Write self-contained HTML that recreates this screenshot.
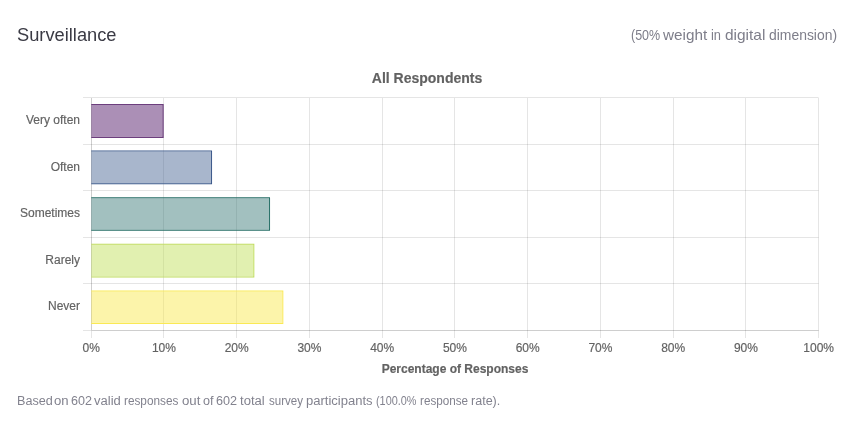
<!DOCTYPE html>
<html>
<head>
<meta charset="utf-8">
<style>
html,body{margin:0;padding:0;background:#fff;}
body{width:857px;height:430px;position:relative;overflow:hidden;font-family:"Liberation Sans",sans-serif;}
#wrap{position:absolute;left:0;top:0;width:857px;height:430px;will-change:transform;}
.t span{position:absolute;white-space:nowrap;transform-origin:0 0;}
#title span{top:24px;font-size:17.5px;color:#3a3a44;line-height:22px;}
#weight span{top:26px;font-size:14.5px;color:#7e7e8a;line-height:18px;}
#foot span{top:393px;font-size:12px;color:#82828e;line-height:16px;}
svg{position:absolute;left:0;top:0;}
svg text{font-family:"Liberation Sans",sans-serif;fill:#626262;font-size:12px;stroke:#666;stroke-width:0.18px;}
</style>
</head>
<body>
<div id="wrap">
<div class="t" id="title"><span style="left:17.09px;transform:scaleX(1.044)">Surveillance</span></div>
<div class="t" id="weight"><span style="left:630.52px;transform:scaleX(0.8622)">(50%</span><span style="left:663.3px;transform:scaleX(1.0542)">weight</span><span style="left:711.34px;transform:scaleX(0.8852)">in</span><span style="left:724.73px;transform:scaleX(1.064)">digital</span><span style="left:769.08px;transform:scaleX(0.9595)">dimension)</span></div>
<svg width="857" height="430" viewBox="0 0 857 430">
  <g>
  <rect x="83" y="97" width="735.6" height="1" fill="rgba(0,0,0,0.1)"/>
  <rect x="83" y="144" width="735.6" height="1" fill="rgba(0,0,0,0.1)"/>
  <rect x="83" y="190" width="735.6" height="1" fill="rgba(0,0,0,0.1)"/>
  <rect x="83" y="237" width="735.6" height="1" fill="rgba(0,0,0,0.1)"/>
  <rect x="83" y="283" width="735.6" height="1" fill="rgba(0,0,0,0.1)"/>
  <rect x="83" y="330" width="735.6" height="1" fill="rgba(0,0,0,0.1)"/>
  <rect x="91" y="98" width="1" height="240" fill="rgba(0,0,0,0.1)"/>
  <rect x="163" y="98" width="1" height="240" fill="rgba(0,0,0,0.1)"/>
  <rect x="236" y="98" width="1" height="240" fill="rgba(0,0,0,0.1)"/>
  <rect x="309" y="98" width="1" height="240" fill="rgba(0,0,0,0.1)"/>
  <rect x="382" y="98" width="1" height="240" fill="rgba(0,0,0,0.1)"/>
  <rect x="454" y="98" width="1" height="240" fill="rgba(0,0,0,0.1)"/>
  <rect x="527" y="98" width="1" height="240" fill="rgba(0,0,0,0.1)"/>
  <rect x="600" y="98" width="1" height="240" fill="rgba(0,0,0,0.1)"/>
  <rect x="673" y="98" width="1" height="240" fill="rgba(0,0,0,0.1)"/>
  <rect x="745" y="98" width="1" height="240" fill="rgba(0,0,0,0.1)"/>
  <rect x="818" y="98" width="1" height="240" fill="rgba(0,0,0,0.1)"/>
  <rect x="91" y="98" width="1" height="232" fill="rgba(0,0,0,0.1)"/>
  <rect x="92" y="330" width="726.6" height="1" fill="rgba(0,0,0,0.1)"/>
  </g>
  <path fill-rule="evenodd" fill="rgb(108,62,125)" d="M91.20 104.00H163.70V137.95H91.20Z M91.20 105.30H162.40V136.65H91.20Z"/>
  <rect x="91.20" y="105.30" width="71.20" height="31.35" fill="rgba(68,6,93,0.45)"/>
  <path fill-rule="evenodd" fill="rgb(58,88,138)" d="M91.20 150.62H212.04V184.18H91.20Z M91.20 151.62H211.04V183.18H91.20Z"/>
  <rect x="91.20" y="151.62" width="119.84" height="31.55" fill="rgba(62,93,142,0.45)"/>
  <path fill-rule="evenodd" fill="rgb(38,110,102)" d="M91.20 197.22H270.04V230.78H91.20Z M91.20 198.22H269.04V229.78H91.20Z"/>
  <rect x="91.20" y="198.22" width="177.84" height="31.55" fill="rgba(48,115,113,0.45)"/>
  <path fill-rule="evenodd" fill="rgb(192,220,92)" d="M91.20 243.82H254.33V277.38H91.20Z M91.20 244.82H253.33V276.38H91.20Z"/>
  <rect x="91.20" y="244.82" width="162.13" height="31.55" fill="rgba(188,222,79,0.45)"/>
  <path fill-rule="evenodd" fill="rgb(250,233,84)" d="M91.20 290.42H283.33V323.98H91.20Z M91.20 291.42H282.33V322.98H91.20Z"/>
  <rect x="91.20" y="291.42" width="191.13" height="31.55" fill="rgba(248,230,66,0.45)"/>
  <g text-anchor="end">
  <text x="80" y="124.0">Very often</text>
  <text x="80" y="170.6">Often</text>
  <text x="80" y="217.2">Sometimes</text>
  <text x="80" y="263.8">Rarely</text>
  <text x="80" y="310.4">Never</text>
  </g>
  <g text-anchor="middle">
  <text x="91.2" y="352">0%</text>
  <text x="163.9" y="352">10%</text>
  <text x="236.7" y="352">20%</text>
  <text x="309.4" y="352">30%</text>
  <text x="382.2" y="352">40%</text>
  <text x="454.9" y="352">50%</text>
  <text x="527.7" y="352">60%</text>
  <text x="600.4" y="352">70%</text>
  <text x="673.2" y="352">80%</text>
  <text x="745.9" y="352">90%</text>
  <text x="818.7" y="352">100%</text>
  </g>
  <text x="427" y="83" text-anchor="middle" style="font-weight:bold;font-size:14px;">All Respondents</text>
  <text x="455" y="373" text-anchor="middle" style="font-weight:bold;font-size:12px;">Percentage of Responses</text>
</svg>
<div class="t" id="foot"><span style="left:16.86px;transform:scaleX(1.0519)">Based</span><span style="left:54.46px;transform:scaleX(1.0951)">on</span><span style="left:71.27px;transform:scaleX(1.0477)">602</span><span style="left:93.66px;transform:scaleX(1.0849)">valid</span><span style="left:123.91px;transform:scaleX(0.9821)">responses</span><span style="left:181.56px;transform:scaleX(1.1001)">out</span><span style="left:202.59px;transform:scaleX(1.0489)">of</span><span style="left:216.36px;transform:scaleX(1.0531)">602</span><span style="left:239.85px;transform:scaleX(1.0887)">total</span><span style="left:268.55px;transform:scaleX(0.9613)">survey</span><span style="left:306.45px;transform:scaleX(1.0855)">participants</span><span style="left:375.88px;transform:scaleX(0.9068)">(100.0%</span><span style="left:419.52px;transform:scaleX(0.9743)">response</span><span style="left:471.06px;transform:scaleX(1.0458)">rate).</span></div>
</div>
</body>
</html>
